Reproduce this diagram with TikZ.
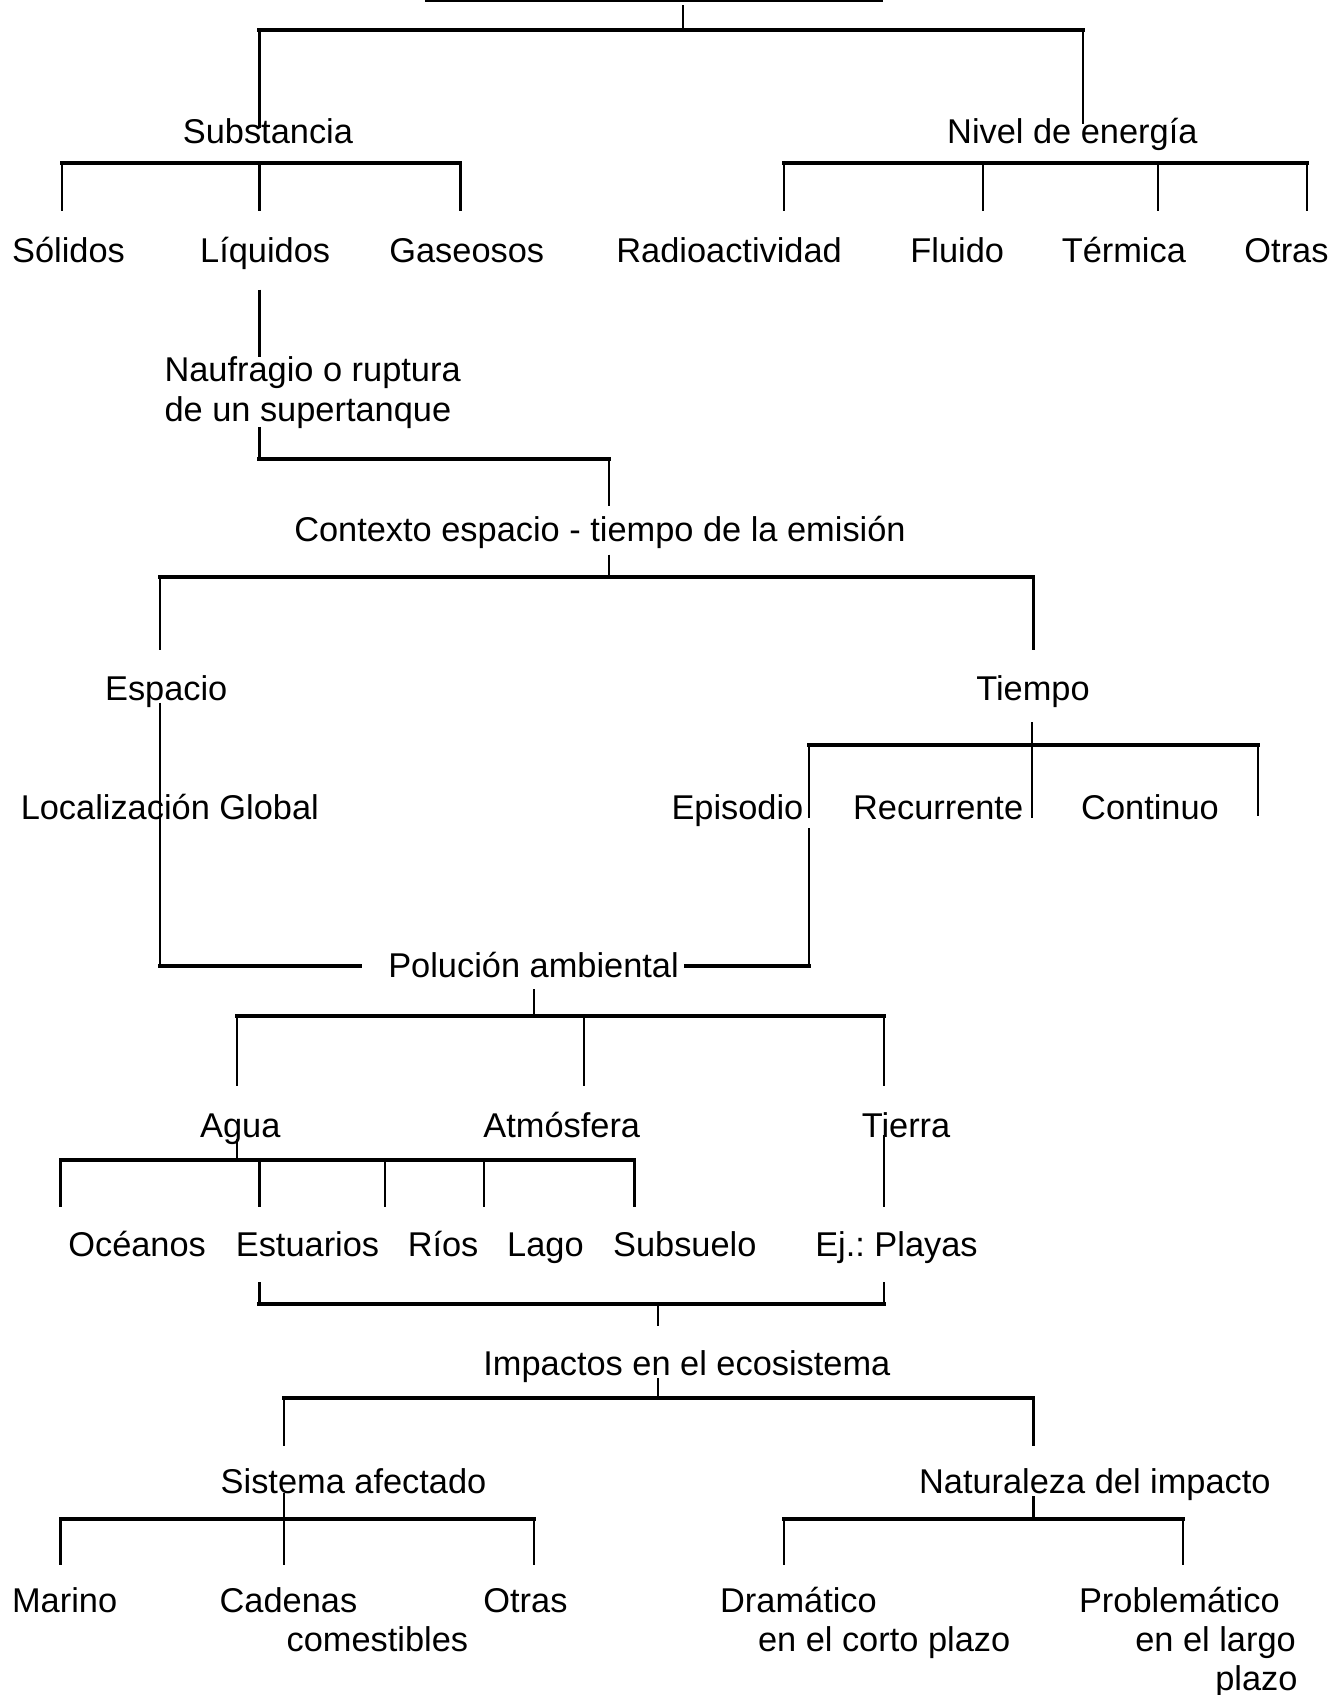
\documentclass[tikz,border=0pt]{standalone}
\usepackage{fontspec}
\setmainfont{Liberation Sans}
\frenchspacing
\begin{document}
\begin{tikzpicture}[x=1pt,y=-1pt,
  lbl/.style={anchor=base west, inner sep=0pt, yshift=-2pt, font=\fontsize{31.8}{37}\selectfont},
  bus/.style={line width=3.6pt, line cap=rect},
  drop/.style={line width=2pt},
  thinline/.style={line width=2pt}]
\fill[white] (0,0) rectangle (1243,1568);
\useasboundingbox (0,0) rectangle (1243,1568);
\clip (0,0) rectangle (1243,1568);

% ---------- text nodes ----------
\node[lbl] (sub)  at (169,131) {Substancia};
\node[lbl] (niv)  at (876,131) {Nivel de energía};
\node[lbl] (sol)  at (11,241) {Sólidos};
\node[lbl] (liq)  at (185,241) {Líquidos};
\node[lbl] (gas)  at (360,241) {Gaseosos};
\node[lbl] (rad)  at (570,241) {Radioactividad};
\node[lbl] (flu)  at (842,241) {Fluido};
\node[lbl] (ter)  at (982,241) {Térmica};
\node[lbl] (otr)  at (1151,241) {Otras};
\node[lbl] (nau)  at (152,351) {Naufragio o ruptura};
\node[lbl] (naub) at (152,388) {de un supertanque};
\node[lbl] (ctx)  at (272,499) {Contexto espacio - tiempo de la emisión};
\node[lbl] (esp)  at (97,646) {Espacio};
\node[lbl] (tie)  at (903,646) {Tiempo};
\node[lbl] (loc)  at (19,756) {Localización Global};
\node[lbl] (epi)  at (621,756) {Episodio};
\node[lbl] (rec)  at (789,756) {Recurrente};
\node[lbl] (con)  at (1000,756) {Continuo};
\node[lbl] (pol)  at (359,902) {Polución ambiental};
\node[lbl] (agu)  at (185,1050) {Agua};
\node[lbl] (atm)  at (447,1050) {Atmósfera};
\node[lbl] (tir)  at (797,1050) {Tierra};
\node[lbl] (oce)  at (63,1160) {Océanos};
\node[lbl] (est)  at (218,1160) {Estuarios};
\node[lbl] (rio)  at (377,1160) {Ríos};
\node[lbl] (lag)  at (469,1160) {Lago};
\node[lbl] (sbs)  at (567,1160) {Subsuelo};
\node[lbl] (pla)  at (754,1160) {Ej.: Playas};
\node[lbl] (imp)  at (447,1270) {Impactos en el ecosistema};
\node[lbl] (sis)  at (204,1380) {Sistema afectado};
\node[lbl] (nat)  at (850,1380) {Naturaleza del impacto};
\node[lbl] (mar)  at (11,1490) {Marino};
\node[lbl] (cad)  at (203,1490) {Cadenas};
\node[lbl] (cadb) at (265,1526) {comestibles};
\node[lbl] (otb)  at (447,1490) {Otras};
\node[lbl] (dra)  at (666,1490) {Dramático};
\node[lbl] (drab) at (701,1526) {en el corto plazo};
\node[lbl] (pro)  at (998,1490) {Problemático};
\node[lbl] (prob) at (1050,1526) {en el largo};
\node[lbl] (proc) at (1124,1562) {plazo};

% ---------- junction coordinates ----------
\path (393,1) coordinate (u1) (817,1) coordinate (u2)
      (632,5) coordinate (ttop) (632,28) coordinate (b1m)
      (240,28) coordinate (b1l) (1002,28) coordinate (b1r)
      (240,118) coordinate (subin) (1002,115) coordinate (nivin);
\path (57,151) coordinate (b2l) (240,151) coordinate (b2m) (426,151) coordinate (b2r)
      (57,195) coordinate (esol) (240,195) coordinate (eliq) (426,195) coordinate (egas);
\path (725,151) coordinate (b3l) (909,151) coordinate (b3a) (1071,151) coordinate (b3b) (1209,151) coordinate (b3r)
      (725,195) coordinate (erad) (909,195) coordinate (eflu) (1071,195) coordinate (eter) (1209,195) coordinate (eotr);
\path (240,268) coordinate (l1) (240,330) coordinate (l2)
      (240,395) coordinate (n1) (240,425) coordinate (n2) (563,425) coordinate (n3) (563,468) coordinate (n4);
\path (563,513) coordinate (c1) (563,534) coordinate (c2)
      (148,534) coordinate (c3) (956,534) coordinate (c4)
      (148,601) coordinate (c5) (956,601) coordinate (c6);
\path (148,650) coordinate (s1) (148,894) coordinate (s2) (333,894) coordinate (s3)
      (635,894) coordinate (p1) (748,894) coordinate (p2) (748,766) coordinate (p3);
\path (955,668) coordinate (t1) (955,757) coordinate (t2)
      (748,689) coordinate (t3) (1164,689) coordinate (t4)
      (748,757) coordinate (t5) (1164,755) coordinate (t6);
\path (494,915) coordinate (q1) (494,940) coordinate (q2)
      (219,940) coordinate (q3) (540,940) coordinate (q5) (818,940) coordinate (q4)
      (219,1005) coordinate (eagu) (540,1005) coordinate (eatm) (818,1005) coordinate (etir);
\path (219,1054) coordinate (a1) (219,1073) coordinate (a2)
      (56,1073) coordinate (a3) (240,1073) coordinate (a5) (356,1073) coordinate (a6)
      (448,1073) coordinate (a7) (587,1073) coordinate (a4)
      (56,1117) coordinate (eoce) (240,1117) coordinate (eest) (356,1117) coordinate (erio)
      (448,1117) coordinate (elag) (587,1117) coordinate (esbs);
\path (818,1050) coordinate (r1) (818,1117) coordinate (r2);
\path (240,1186) coordinate (k1) (240,1206) coordinate (k2) (818,1206) coordinate (k3)
      (818,1186) coordinate (k4) (609,1206) coordinate (k5) (609,1227) coordinate (k6);
\path (609,1275) coordinate (i1) (609,1293) coordinate (i2)
      (263,1293) coordinate (i3) (956,1293) coordinate (i4)
      (263,1338) coordinate (esis) (956,1338) coordinate (enat);
\path (263,1381) coordinate (m1) (263,1448) coordinate (m2)
      (56,1405) coordinate (m3) (494,1405) coordinate (m4)
      (56,1448) coordinate (emar) (494,1448) coordinate (eotb);
\path (956,1384) coordinate (z1) (956,1405) coordinate (z2)
      (725,1405) coordinate (z3) (1094,1405) coordinate (z4)
      (725,1448) coordinate (edra) (1094,1448) coordinate (epro);

% ---------- connectors ----------
\draw[thinline] (u1) -- (u2);
\draw[drop] (ttop) -- (b1m);
\draw[bus] (b1l) -- (b1r);
\draw[drop] (b1l) -- (subin);
\draw[drop] (b1r) -- (nivin);

\draw[bus] (b2l) -- (b2r);
\draw[drop] (b2l) -- (esol);
\draw[drop] (b2m) -- (eliq);
\draw[drop] (b2r) -- (egas);

\draw[bus] (b3l) -- (b3r);
\draw[drop] (b3l) -- (erad);
\draw[drop] (b3a) -- (eflu);
\draw[drop] (b3b) -- (eter);
\draw[drop] (b3r) -- (eotr);

\draw[drop] (l1) -- (l2);
\draw[drop] (n1) -- (n2);
\draw[bus]  (n2) -- (n3);
\draw[drop] (n3) -- (n4);

\draw[drop] (c1) -- (c2);
\draw[bus]  (c3) -- (c4);
\draw[drop] (c3) -- (c5);
\draw[drop] (c4) -- (c6);

\draw[drop] (s1) -- (s2);
\draw[bus]  (s2) -- (s3);
\draw[bus]  (p1) -- (p2);
\draw[drop] (p2) -- (p3);

\draw[drop] (t1) -- (t2);
\draw[bus]  (t3) -- (t4);
\draw[drop] (t3) -- (t5);
\draw[drop] (t4) -- (t6);

\draw[drop] (q1) -- (q2);
\draw[bus]  (q3) -- (q4);
\draw[drop] (q3) -- (eagu);
\draw[drop] (q5) -- (eatm);
\draw[drop] (q4) -- (etir);

\draw[drop] (a1) -- (a2);
\draw[bus]  (a3) -- (a4);
\draw[drop] (a3) -- (eoce);
\draw[drop] (a5) -- (eest);
\draw[drop] (a6) -- (erio);
\draw[drop] (a7) -- (elag);
\draw[drop] (a4) -- (esbs);
\draw[drop] (r1) -- (r2);

\draw[drop] (k1) -- (k2);
\draw[bus]  (k2) -- (k3);
\draw[drop] (k4) -- (k3);
\draw[drop] (k5) -- (k6);

\draw[drop] (i1) -- (i2);
\draw[bus]  (i3) -- (i4);
\draw[drop] (i3) -- (esis);
\draw[drop] (i4) -- (enat);

\draw[drop] (m1) -- (m2);
\draw[bus]  (m3) -- (m4);
\draw[drop] (m3) -- (emar);
\draw[drop] (m4) -- (eotb);

\draw[drop] (z1) -- (z2);
\draw[bus]  (z3) -- (z4);
\draw[drop] (z3) -- (edra);
\draw[drop] (z4) -- (epro);
\end{tikzpicture}
\end{document}
